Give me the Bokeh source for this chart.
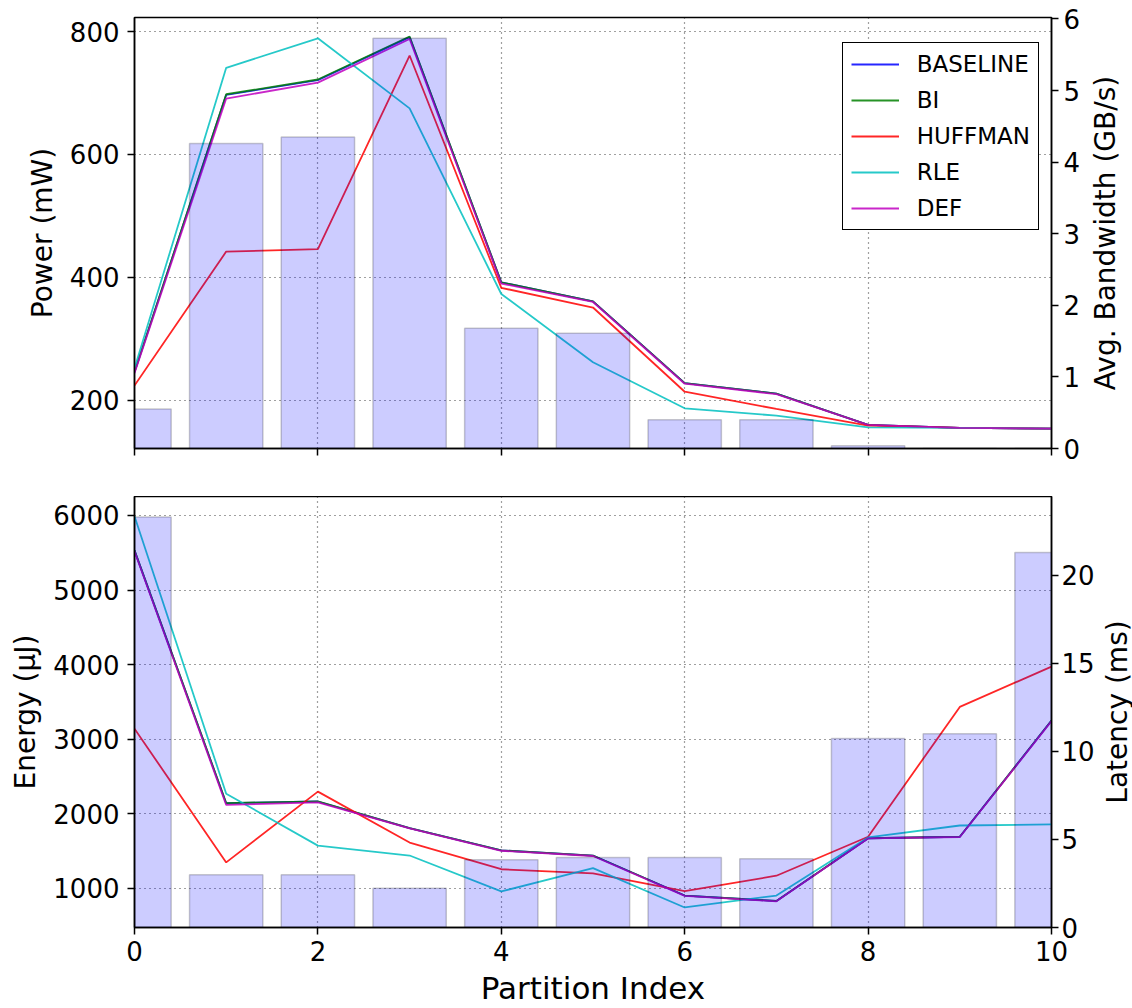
import math
from bokeh.plotting import figure
from bokeh.models import Range1d, LinearAxis, FixedTicker, Legend, LegendItem
from bokeh.layouts import column, row
from bokeh.embed import file_html
from bokeh.resources import INLINE

# ---------------- data ----------------
partition = [0, 1, 2, 3, 4, 5, 6, 7, 8, 9, 10]
x_ticks = [0, 2, 4, 6, 8, 10]

series_names = ["BASELINE", "BI", "HUFFMAN", "RLE", "DEF"]
series_colors = ["#0000ff", "#008000", "#ff0000", "#00bfbf", "#bf00bf"]

# Power (mW), top panel lines
power_baseline = [246, 697, 721, 791, 392, 361, 228, 211, 160, 155, 154]
power_bi = [246, 698, 722, 792, 392, 361, 228, 211, 160, 155, 154]
power_huffman = [224, 442, 446, 761, 383, 351, 214, 186, 159, 155, 154]
power_rle = [252, 741, 789, 675, 373, 262, 187, 175, 156, 155, 154]
power_def = [244, 691, 717, 788, 390, 360, 227, 210, 160, 155, 154]

# Avg. bandwidth (GB/s), top panel bars
bandwidth = [0.55, 4.26, 4.35, 5.73, 1.68, 1.61, 0.40, 0.40, 0.04, 0.0, 0.0]

# Energy (uJ), bottom panel lines
energy_baseline = [5532, 2138, 2161, 1803, 1505, 1436, 899, 826, 1668, 1688, 3248]
energy_bi = [5532, 2140, 2163, 1803, 1505, 1436, 899, 826, 1668, 1688, 3248]
energy_huffman = [3138, 1344, 2294, 1610, 1252, 1197, 959, 1165, 1688, 3431, 3972]
energy_rle = [5991, 2266, 1569, 1436, 954, 1266, 739, 899, 1679, 1839, 1853]
energy_def = [5520, 2115, 2150, 1800, 1500, 1430, 895, 822, 1665, 1685, 3240]

# Latency (ms), bottom panel bars
latency = [23.3, 3.0, 3.0, 2.23, 3.84, 3.97, 3.97, 3.9, 10.72, 11.0, 21.28]

power_ticks = [200, 400, 600, 800]
bandwidth_ticks = [0, 1, 2, 3, 4, 5, 6]
energy_ticks = [1000, 2000, 3000, 4000, 5000, 6000]
latency_ticks = [0, 5, 10, 15, 20]

# ---------------- style ----------------
FONT = "DejaVu Sans"
TICK_SIZE = "26px"
LABEL_SIZE = "28px"
XLABEL_SIZE = "31px"
FRAME_W = 917
FRAME_H = 431


def style_axis(ax, ticks, label, label_size, label_standoff, axis_standoff):
    ax.ticker = FixedTicker(ticks=ticks)
    ax.axis_label = label
    ax.axis_label_text_font = FONT
    ax.axis_label_text_font_size = label_size
    ax.axis_label_text_font_style = "normal"
    ax.axis_label_text_color = "black"
    ax.major_label_text_font = FONT
    ax.major_label_text_font_size = TICK_SIZE
    ax.major_label_text_color = "black"
    ax.major_tick_out = 7
    ax.major_tick_in = 0
    ax.minor_tick_out = 0
    ax.minor_tick_in = 0
    ax.major_tick_line_width = 1.5
    ax.major_tick_line_color = "black"
    ax.axis_line_width = 1.5
    ax.axis_line_color = "black"
    ax.major_label_standoff = label_standoff
    ax.axis_label_standoff = axis_standoff


def make_fig(y_rng, y2_rng, border_top, border_bottom, border_right):
    p = figure(frame_width=FRAME_W, frame_height=FRAME_H,
               x_range=Range1d(0, 10), y_range=Range1d(*y_rng),
               output_backend="svg", toolbar_location=None,
               min_border_left=134, min_border_right=border_right,
               min_border_top=border_top, min_border_bottom=border_bottom,
               background_fill_color="white", border_fill_color="white")
    p.extra_y_ranges = {"right": Range1d(*y2_rng)}
    p.outline_line_color = "black"
    p.outline_line_width = 1.5
    p.outline_line_alpha = 1.0
    for g in (p.xgrid[0], p.ygrid[0]):
        g.grid_line_color = "black"
        g.grid_line_alpha = 0.75
        g.grid_line_dash = "1 4"
        g.grid_line_width = 1.2
    return p


def add_right_axis(p, ticks, standoff):
    ax = LinearAxis(y_range_name="right")
    style_axis(ax, ticks, "", LABEL_SIZE, standoff, 0)
    p.add_layout(ax, "right")
    return ax


def label_strip(text, border_top, border_bottom):
    # narrow figure whose only content is a vertical axis title (reads bottom-to-top)
    q = figure(frame_width=1, frame_height=FRAME_H,
               x_range=Range1d(0, 1), y_range=Range1d(0, 1),
               x_axis_location=None, y_axis_location=None,
               output_backend="svg", toolbar_location=None,
               min_border_left=33, min_border_right=0,
               min_border_top=border_top, min_border_bottom=border_bottom,
               background_fill_color="white", border_fill_color="white")
    q.outline_line_color = None
    q.xgrid.visible = False
    q.ygrid.visible = False
    ax = LinearAxis(ticker=FixedTicker(ticks=[]))
    ax.axis_label = text
    ax.axis_label_text_font = FONT
    ax.axis_label_text_font_size = LABEL_SIZE
    ax.axis_label_text_font_style = "normal"
    ax.axis_label_text_color = "black"
    ax.axis_line_color = None
    ax.major_tick_line_color = None
    ax.minor_tick_line_color = None
    ax.major_tick_out = 0
    ax.major_tick_in = 0
    ax.minor_tick_out = 0
    ax.minor_tick_in = 0
    ax.major_label_standoff = 0
    ax.axis_label_standoff = 0
    q.add_layout(ax, "left")
    return q


# ---------------- top panel ----------------
p1 = make_fig((121.6, 822.9), (0, 6.02), 17, 48, 34)
style_axis(p1.yaxis[0], power_ticks, "Power (mW)", LABEL_SIZE, 8, 8)
p1.ygrid[0].ticker = FixedTicker(ticks=power_ticks)
style_axis(p1.xaxis[0], x_ticks, "", LABEL_SIZE, 0, 0)
p1.xaxis[0].major_label_overrides = {t: "" for t in x_ticks}
p1.xgrid[0].ticker = FixedTicker(ticks=x_ticks)
add_right_axis(p1, bandwidth_ticks, 5)

top_series = [power_baseline, power_bi, power_huffman, power_rle, power_def]
renderers = []
for vals, col in zip(top_series, series_colors):
    r = p1.line(partition, vals, line_color=col, line_width=1.8, line_alpha=0.85)
    renderers.append(r)
p1.vbar(x=partition, top=bandwidth, bottom=0, width=0.8, y_range_name="right",
        fill_color="blue", fill_alpha=0.2, line_color="black", line_alpha=0.2, line_width=1.5)

legend = Legend(items=[LegendItem(label=n, renderers=[r]) for n, r in zip(series_names, renderers)],
                location=(707.7, 218.0))
legend.label_text_font = FONT
legend.label_text_font_size = "23px"
legend.label_text_color = "black"
legend.glyph_width = 48
legend.glyph_height = 26
legend.label_height = 26
legend.label_standoff = 18
legend.spacing = 10
legend.padding = 8
legend.margin = 0
legend.border_line_color = "black"
legend.border_line_width = 1.5
legend.border_line_alpha = 1.0
legend.background_fill_color = "white"
legend.background_fill_alpha = 1.0
p1.add_layout(legend)

q1 = label_strip("Avg. Bandwidth (GB/s)", 17, 48)

# ---------------- bottom panel ----------------
p2 = make_fig((470, 6255), (0, 24.46), 0, 81, 44)
style_axis(p2.yaxis[0], energy_ticks, "Energy (μJ)", LABEL_SIZE, 8, 8)
p2.ygrid[0].ticker = FixedTicker(ticks=energy_ticks)
style_axis(p2.xaxis[0], x_ticks, "Partition Index", XLABEL_SIZE, 6, 6)
p2.xgrid[0].ticker = FixedTicker(ticks=x_ticks)
add_right_axis(p2, latency_ticks, 3)

bottom_series = [energy_baseline, energy_bi, energy_huffman, energy_rle, energy_def]
for vals, col in zip(bottom_series, series_colors):
    p2.line(partition, vals, line_color=col, line_width=1.8, line_alpha=0.85)
p2.vbar(x=partition, top=latency, bottom=0, width=0.8, y_range_name="right",
        fill_color="blue", fill_alpha=0.2, line_color="black", line_alpha=0.2, line_width=1.5)

q2 = label_strip("Latency (ms)", 0, 81)

layout = column(row(p1, q1, spacing=0), row(p2, q2, spacing=0), spacing=0)
open("out.html", "w").write(file_html(layout, INLINE))
